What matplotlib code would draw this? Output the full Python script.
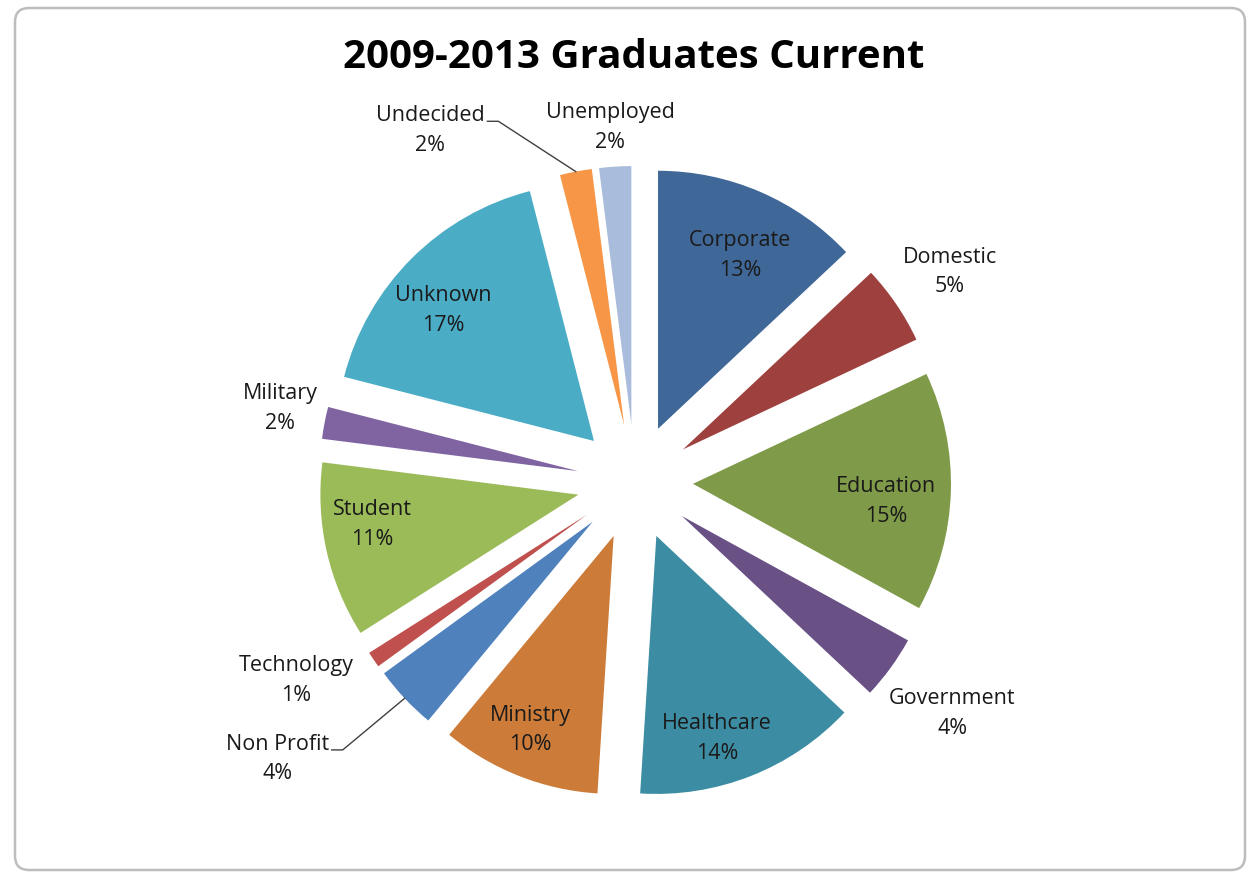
import numpy as np
import matplotlib.pyplot as plt
from matplotlib.patches import FancyBboxPatch

# graduate outcomes, clockwise from 12 o'clock
categories = ["Corporate", "Domestic", "Education", "Government", "Healthcare",
              "Ministry", "Non Profit", "Technology", "Student", "Military",
              "Unknown", "Undecided", "Unemployed"]
shares = [13, 5, 15, 4, 14, 10, 4, 1, 11, 2, 17, 2, 2]
colors = ["#3F6797", "#9E413E", "#7F9A48", "#695185", "#3C8DA3", "#CC7B38",
          "#4F81BD", "#C0504D", "#9BBB59", "#8064A2", "#4BACC6", "#F79646",
          "#A9BCDB"]

# label distance from the slice tip (in radii) and angular nudge (degrees);
# None -> label sits at the end of a leader line
label_dist = [0.745, 1.245, 0.75, 1.295, 0.815, 0.815, None, 1.295, 0.805, 1.18,
              0.775, None, 1.155]
label_nudge = [1.4, 0.4, 2.5, 0.0, 3.8, 1.4, 0.0, 4.0, 3.7, 1.1, -3.0, 0.0, -0.4]
# bend of the leader line relative to the outer arc (in radii)
leader_bend = {"Undecided": (-0.30, 0.195), "Non Profit": (-0.24, -0.20)}

W, H = 1252, 879
fig = plt.figure(figsize=(W / 100, H / 100), dpi=100)
ax = fig.add_axes([0, 0, 1, 1])

# chart area border
frame = FancyBboxPatch((15, -871), 1230, 862, boxstyle="round,pad=0,rounding_size=14",
                       facecolor="white", edgecolor="#BDBDBD", linewidth=1.8)
ax.add_patch(frame)

cx, cy = 635, -483
R = 258
gap = 58
ax.pie(shares, colors=colors, startangle=90, counterclock=False,
       explode=[gap] * len(shares), center=(cx, cy), radius=R,
       wedgeprops=dict(linewidth=0), frame=True)
ax.set_xlim(0, W)
ax.set_ylim(-H, 0)
ax.set_aspect("equal")
ax.axis("off")

font = "Open Sans"
fs = 15.5
tc = "#1A1A1A"
total = sum(shares)
cum = np.cumsum([0] + shares)
for i, name in enumerate(categories):
    mid_deg = (cum[i] + shares[i] / 2) / total * 360
    mid = np.deg2rad(mid_deg)
    ux, uy = np.sin(mid), np.cos(mid)
    tipx, tipy = cx + gap * ux, cy + gap * uy
    txt = f"{name}\n{shares[i] / total * 100:.0f}%"
    d = label_dist[i]
    if d is not None:
        a = np.deg2rad(mid_deg + label_nudge[i])
        dist = gap + d * R
        ax.text(cx + dist * np.sin(a), cy + dist * np.cos(a), txt,
                ha="center", va="center", fontsize=fs, family=font, color=tc,
                linespacing=1.55)
    else:
        # leader line from the outer arc to a short horizontal stub
        ex, ey = tipx + R * ux, tipy + R * uy
        bx = ex + leader_bend[name][0] * R
        by = ey + leader_bend[name][1] * R
        sx = bx - 11
        ax.plot([ex, bx, sx], [ey, by, by], color="#404040", lw=1.0)
        ax.text(sx - 3, by - 8, txt, ha="right", va="center", multialignment="center",
                fontsize=fs, family=font, color=tc, linespacing=1.55)

ax.text(634, -57, "2009-2013 Graduates Current", ha="center", va="center",
        fontsize=29, fontweight="bold", family="Open Sans", color="black")

fig.savefig("out.png", dpi=100)
